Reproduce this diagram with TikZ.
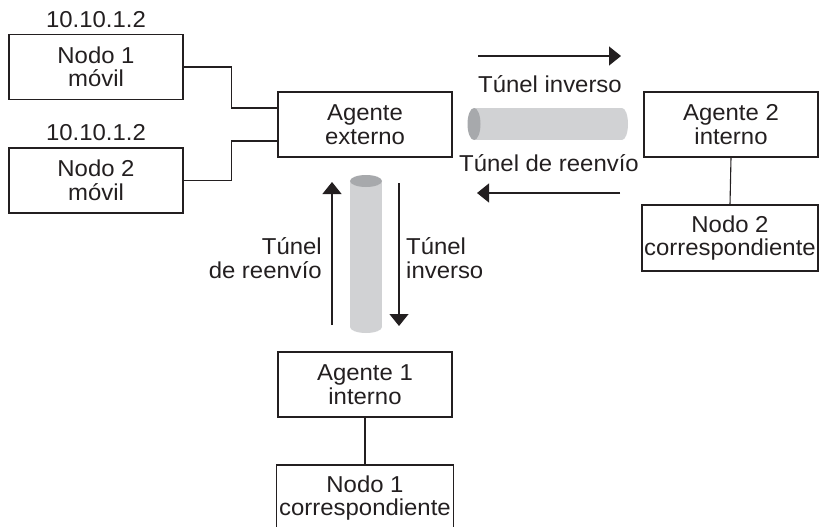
\documentclass[tikz,border=0pt]{standalone}
\usepackage{fontspec}
\setmainfont[FakeStretch=1.04]{Liberation Sans}
\usetikzlibrary{arrows.meta}
\definecolor{ink}{HTML}{231F20}
\definecolor{tubebody}{HTML}{D1D2D4}
\definecolor{tubeend}{HTML}{A7A9AC}
\tikzset{
  box/.style={draw=ink, line width=1.1pt, minimum width=174pt, minimum height=65pt, inner sep=0pt, align=center, text=ink},
  lbl/.style={inner sep=0pt, text=ink},
  link/.style={draw=ink, line width=1.1pt},
  flow/.style={draw=ink, line width=1.3pt, -{Triangle[length=12pt,width=19pt]}},
}
\begin{document}
\begin{tikzpicture}[x=1pt,y=-1pt, font=\fontsize{23}{23.5}\selectfont]
\useasboundingbox (0,0) rectangle (819,527);
% boxes
\node[box] (n1) at (96,67) {Nodo 1\\móvil};
\node[box] (n2) at (96,180.5) {Nodo 2\\móvil};
\node[box] (ext) at (365,124.5) {Agente\\externo};
\node[box] (a2) at (731,124.5) {Agente 2\\interno};
\node[box, minimum width=176pt, minimum height=66pt] (c2) at (730,238) {Nodo 2\\correspondiente};
\node[box] (a1) at (365,384.5) {Agente 1\\interno};
\node[box, minimum width=177pt, minimum height=66pt] (c1) at (365,498) {Nodo 1\\correspondiente};
% address labels
\node[lbl] (ip1) at (96,19.5) {10.10.1.2};
\node[lbl] (ip2) at (96,132.5) {10.10.1.2};
% connectors
\draw[link] (n1.east) -- ++(48,0) |- ([yshift=16.5pt]ext.west);
\draw[link] (n2.east) -- ++(48,0) |- ([yshift=-16.5pt]ext.west);
\draw[link] (a2.south) -- (c2.north);
\draw[link] (a1.south) -- (c1.north);
% horizontal tunnel
\fill[tubebody] (474,108) rectangle (622,140);
\fill[tubebody] (622,124) ellipse [x radius=6, y radius=16];
\fill[tubeend] (474,124) ellipse [x radius=6.5, y radius=16];
% vertical tunnel
\fill[tubebody] (350,181) rectangle (382,327);
\fill[tubebody] (366,327) ellipse [x radius=16, y radius=6];
\fill[tubeend] (366,181) ellipse [x radius=16, y radius=6];
% arrows
\coordinate (h1s) at (478,56); \coordinate (h1e) at (621,56);
\coordinate (h2s) at (620,193); \coordinate (h2e) at (477,193);
\coordinate (v1s) at (332,325); \coordinate (v1e) at (332,182);
\coordinate (v2s) at (399,183); \coordinate (v2e) at (399,326);
\draw[flow] (h1s) -- (h1e);
\draw[flow] (h2s) -- (h2e);
\draw[flow] (v1s) -- (v1e);
\draw[flow] (v2s) -- (v2e);
% tunnel labels
\node[lbl] (t1) at (550,84) {Túnel inverso};
\node[lbl] (t2) at (549,163) {Túnel de reenvío};
\node[lbl, align=right, anchor=east] (t3) at (322,258) {Túnel\\de reenvío};
\node[lbl, align=left, anchor=west] (t4) at (406,258) {Túnel\\inverso};
\end{tikzpicture}
\end{document}
